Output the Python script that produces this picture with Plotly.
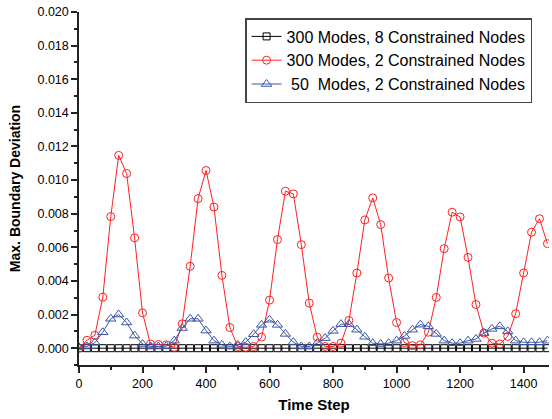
import plotly.graph_objects as go

time_step = [i * 25 for i in range(60)]

modes300_8nodes = [0.0] * 60

modes300_2nodes = [
    0.0000, 0.00047, 0.00077, 0.00304, 0.00783, 0.01147, 0.01039, 0.00656, 0.00210, 0.00025,
    0.00022, 0.00020, 0.00005, 0.00145, 0.00487, 0.00890, 0.01057, 0.00840, 0.00433, 0.00123,
    0.00010, 0.00005, 0.00010, 0.00066, 0.00286, 0.00646, 0.00934, 0.00918, 0.00616, 0.00268,
    0.00066, 0.00010, 0.00010, 0.00030, 0.00165, 0.00447, 0.00763, 0.00894, 0.00735, 0.00417,
    0.00153, 0.00033, 0.00015, 0.00020, 0.00095, 0.00302, 0.00592, 0.00809, 0.00781, 0.00540,
    0.00260, 0.00090, 0.00030, 0.00025, 0.00070, 0.00205, 0.00447, 0.00690, 0.00770, 0.00622,
]

modes50_2nodes = [
    0.00005, 0.00010, 0.00033, 0.00095, 0.00175, 0.00200, 0.00153, 0.00075, 0.00025, 0.00010,
    0.00010, 0.00012, 0.00045, 0.00120, 0.00175, 0.00175, 0.00105, 0.00045, 0.00020, 0.00010,
    0.00020, 0.00036, 0.00083, 0.00139, 0.00169, 0.00139, 0.00085, 0.00036, 0.00010, 0.00010,
    0.00030, 0.00060, 0.00103, 0.00143, 0.00143, 0.00110, 0.00068, 0.00030, 0.00025, 0.00030,
    0.00045, 0.00073, 0.00110, 0.00140, 0.00130, 0.00085, 0.00045, 0.00030, 0.00030, 0.00045,
    0.00055, 0.00090, 0.00115, 0.00130, 0.00100, 0.00045, 0.00035, 0.00035, 0.00035, 0.00045,
]

series_names = [
    "300 Modes, 8 Constrained Nodes",
    "300 Modes, 2 Constrained Nodes",
    " 50  Modes, 2 Constrained Nodes",
]

FONT = "Liberation Sans, Arial, sans-serif"

fig = go.Figure()
fig.add_trace(go.Scatter(
    x=time_step, y=modes300_8nodes, name=series_names[0], mode="lines+markers",
    line=dict(color="#000000", width=1),
    marker=dict(symbol="square-open", size=7, color="#000000", line=dict(width=1)),
))
fig.add_trace(go.Scatter(
    x=time_step, y=modes300_2nodes, name=series_names[1], mode="lines+markers",
    line=dict(color="#ff2020", width=1),
    marker=dict(symbol="circle-open", size=8, color="#ff2020", line=dict(width=1)),
))
fig.add_trace(go.Scatter(
    x=time_step, y=modes50_2nodes, name=series_names[2], mode="lines+markers",
    line=dict(color="#3a55a8", width=1),
    marker=dict(symbol="triangle-up-open", size=9, color="#3a55a8", line=dict(width=1)),
))

axis_common = dict(
    showgrid=False, zeroline=False, showline=True, linecolor="#222222", linewidth=1.5,
    ticks="outside", ticklen=6, tickwidth=1.5, tickcolor="#222222",
    tickfont=dict(family=FONT, size=12.5, color="#000000"),
)

fig.update_xaxes(
    range=[0, 1480], dtick=200, tick0=0,
    minor=dict(ticks="outside", ticklen=3, dtick=100, tick0=0, tickcolor="#222222", tickwidth=1.5),
    title=dict(text="<b>Time Step</b>", font=dict(family=FONT, size=15, color="#000000"), standoff=10),
    **axis_common,
)
fig.update_yaxes(
    range=[-0.001, 0.020], dtick=0.002, tick0=0, tickformat=".3f",
    minor=dict(ticks="outside", ticklen=3, dtick=0.001, tick0=0, tickcolor="#222222", tickwidth=1.5),
    title=dict(text="<b>Max. Boundary Deviation</b>", font=dict(family=FONT, size=14, color="#000000"), standoff=14),
    **axis_common,
)

fig.update_layout(
    width=552, height=419,
    margin=dict(l=79, r=3, t=12, b=54, autoexpand=False),
    paper_bgcolor="white", plot_bgcolor="white",
    showlegend=True,
    legend=dict(
        x=0.964, y=0.983, xanchor="right", yanchor="top",
        bordercolor="#444444", borderwidth=1.5, bgcolor="white",
        font=dict(family=FONT, size=16, color="#000000"),
        tracegroupgap=0, itemwidth=30,
    ),
)

fig.write_html(
    "out.html",
    config={"displayModeBar": False},
    post_script="document.body.style.margin='0';document.body.style.padding='0';",
)
